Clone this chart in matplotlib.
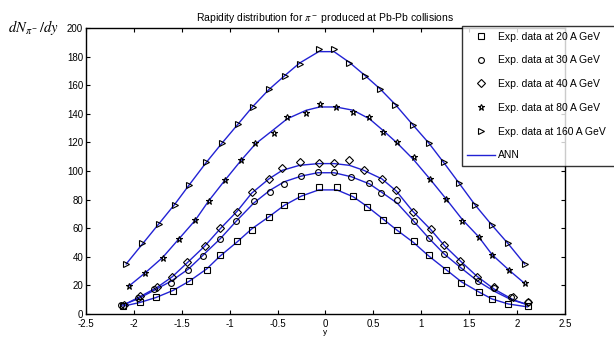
#!/usr/bin/env python3
# -*- coding: utf-8 -*-

import matplotlib
matplotlib.use('Agg')
import matplotlib.pyplot as plt

matplotlib.rcParams['font.family'] = ['Liberation Sans', 'DejaVu Sans']
matplotlib.rcParams['mathtext.fontset'] = 'stix'

y20 = [-2.11, -1.94, -1.77, -1.59, -1.42, -1.24, -1.10, -0.92, -0.77, -0.59, -0.43, -0.25, -0.07,
       0.12, 0.29, 0.43, 0.60, 0.75, 0.92, 1.08, 1.26, 1.42, 1.60, 1.74, 1.91, 2.11]
n20 = [5.8, 8.2, 11.9, 16.0, 23.0, 31.0, 41.0, 51.0, 59.0, 68.0, 76.0, 82.5, 88.6,
       88.6, 82.5, 74.6, 66.0, 59.0, 51.0, 41.0, 30.8, 22.0, 15.1, 10.7, 7.2, 5.6]

y30 = [-2.13, -1.96, -1.79, -1.61, -1.43, -1.28, -1.10, -0.93, -0.75, -0.58, -0.43, -0.25, -0.08,
       0.09, 0.27, 0.46, 0.58, 0.75, 0.92, 1.08, 1.24, 1.42, 1.59, 1.76, 1.94, 2.11]
n30 = [6.3, 11.0, 17.5, 21.9, 31.0, 40.6, 52.4, 65.3, 79.0, 85.0, 91.0, 96.3, 99.5,
       99.5, 95.6, 91.4, 84.4, 80.0, 64.8, 53.4, 41.7, 32.7, 22.9, 18.2, 11.7, 8.2]

y40 = [-2.10, -1.94, -1.76, -1.60, -1.44, -1.26, -1.10, -0.92, -0.77, -0.59, -0.45, -0.27, -0.07,
       0.09, 0.25, 0.40, 0.59, 0.74, 0.91, 1.10, 1.24, 1.41, 1.58, 1.76, 1.96, 2.11]
n40 = [6.0, 12.6, 18.6, 25.6, 36.4, 47.6, 60.0, 71.0, 85.3, 94.4, 102.3, 106.3, 105.4,
       105.4, 107.7, 100.7, 94.2, 86.7, 71.3, 59.7, 48.0, 36.9, 25.9, 18.7, 12.1, 8.6]

y80 = [-2.05, -1.88, -1.70, -1.53, -1.36, -1.22, -1.05, -0.88, -0.73, -0.54, -0.40, -0.20, -0.06,
       0.11, 0.29, 0.46, 0.60, 0.75, 0.92, 1.09, 1.26, 1.43, 1.60, 1.74, 1.92, 2.08]
n80 = [19.6, 28.9, 39.2, 52.7, 65.7, 79.2, 93.7, 107.7, 119.4, 126.4, 138.0, 140.8, 146.9,
       145.0, 141.3, 137.5, 127.3, 120.3, 109.6, 94.6, 80.2, 65.3, 54.0, 41.0, 30.8, 21.4]

y160 = [-2.08, -1.91, -1.74, -1.57, -1.42, -1.25, -1.08, -0.91, -0.76, -0.59, -0.42, -0.27, -0.07,
        0.09, 0.25, 0.41, 0.57, 0.73, 0.91, 1.08, 1.24, 1.39, 1.56, 1.74, 1.91, 2.08]
n160 = [35.0, 49.4, 62.9, 76.5, 90.4, 106.3, 119.4, 132.9, 145.0, 157.6, 166.4, 174.8, 185.1,
        185.1, 175.7, 166.4, 157.6, 146.4, 132.4, 119.4, 106.3, 91.4, 76.0, 62.0, 49.4, 35.0]

# ANN output at the same rapidities (smoother than the data)
ann20 = [5.5, 8.0, 11.5, 16.5, 23.0, 31.5, 40.5, 50.5, 59.5, 68.0, 76.0, 82.5, 86.8,
         86.8, 82.0, 75.5, 66.5, 58.5, 50.0, 40.5, 31.0, 22.5, 15.5, 10.5, 7.0, 5.0]
ann30 = [6.0, 10.5, 16.5, 23.0, 31.5, 41.0, 52.5, 65.0, 77.5, 86.5, 92.5, 96.5, 98.8,
         98.8, 96.0, 91.0, 85.5, 77.5, 65.0, 53.0, 42.0, 32.0, 23.0, 16.0, 10.0, 6.5]
ann40 = [6.5, 12.0, 18.5, 26.0, 36.0, 47.5, 59.5, 72.0, 84.5, 94.5, 100.5, 104.0, 105.2,
         105.2, 104.0, 100.5, 94.5, 86.0, 72.0, 59.0, 48.0, 37.0, 26.5, 17.5, 10.0, 6.5]
ann80 = [19.6, 28.9, 39.5, 52.5, 65.5, 79.0, 93.5, 107.5, 119.0, 129.0, 136.5, 142.5, 144.8,
         144.8, 142.5, 136.5, 128.5, 119.5, 108.0, 94.5, 80.5, 66.0, 54.0, 41.5, 30.5, 21.4]
ann160 = [35.0, 49.0, 63.0, 77.0, 90.5, 105.5, 119.5, 133.0, 145.0, 157.0, 167.0, 175.5, 183.5,
          183.5, 176.0, 167.0, 157.5, 146.5, 132.5, 119.5, 105.5, 92.0, 76.5, 62.0, 49.0, 35.0]

labels = ['Exp. data at 20 A GeV', 'Exp. data at 30 A GeV', 'Exp. data at 40 A GeV',
          'Exp. data at 80 A GeV', 'Exp. data at 160 A GeV']

fig = plt.figure(figsize=(6.14, 3.38), dpi=100)
ax = fig.add_axes([0.140, 0.071, 0.780, 0.846])

blue = '#2222d4'
series = [(y20, n20, ann20, 's', 4), (y30, n30, ann30, 'o', 4.2), (y40, n40, ann40, 'D', 3.6),
          (y80, n80, ann80, '*', 5), (y160, n160, ann160, '>', 4.6)]
handles = []
for (x, n, a, m, ms), lab in zip(series, labels):
    ax.plot(x, a, color=blue, lw=1.0, zorder=2)
    h, = ax.plot(x, n, ls='none', marker=m, ms=ms, mfc='none', mec='black', mew=0.8,
                 label=lab, zorder=3)
    handles.append(h)
ann_h, = ax.plot([], [], color=blue, lw=1.0, label='ANN')
handles.append(ann_h)

ax.set_xlim(-2.5, 2.5)
ax.set_ylim(0, 200)
ax.set_xticks([-2.5, -2, -1.5, -1, -0.5, 0, 0.5, 1, 1.5, 2, 2.5])
ax.set_xticklabels(['-2.5', '-2', '-1.5', '-1', '-0.5', '0', '0.5', '1', '1.5', '2', '2.5'])
ax.set_yticks(range(0, 201, 20))
ax.tick_params(direction='in', top=True, right=True, labelsize=7, length=3, width=0.8)
ax.tick_params(axis='x', pad=3.5)
ax.tick_params(axis='y', pad=2)
for s in ax.spines.values():
    s.set_linewidth(1.0)

ax.set_title(r'Rapidity distribution for $\pi^-$ produced at Pb-Pb collisions',
             fontsize=7.5, pad=5)
ax.set_xlabel('y', fontsize=6, labelpad=0)
fig.text(0.013, 0.92, r'$dN_{\pi^-}/dy$', fontsize=10.5, ha='left', va='center')

# legend box runs off the right edge of the figure, as in the original
leg = fig.legend(handles=handles, loc='upper left', bbox_to_anchor=(0.752, 0.45, 0.26, 0.472),
                 mode='expand', fontsize=7.5, frameon=True, fancybox=False, edgecolor='black',
                 labelspacing=1.32, handlelength=2.7, borderpad=0.5, handletextpad=0.3,
                 borderaxespad=0)
leg.get_frame().set_linewidth(1.0)

plt.savefig('out.png', dpi=100)
